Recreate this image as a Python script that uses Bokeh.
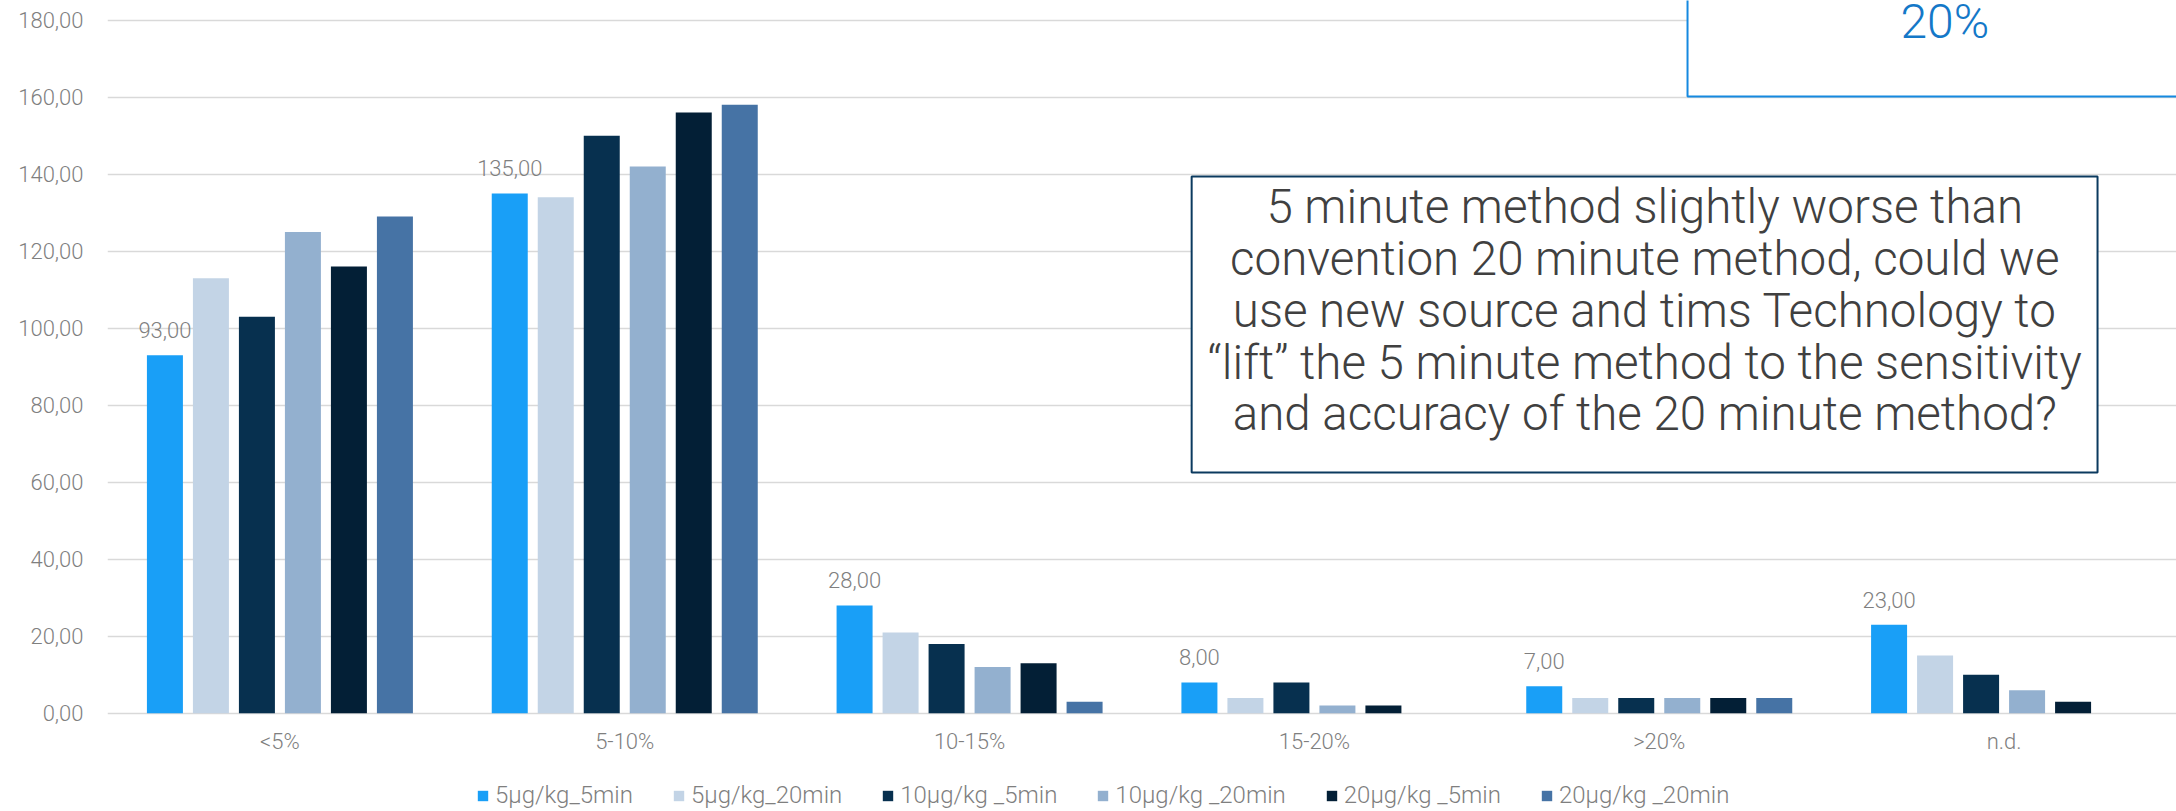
from bokeh.plotting import figure
from bokeh.models import (FactorRange, Range1d, ColumnDataSource, FixedTicker, Legend,
                          LegendItem, LabelSet, Label, BoxAnnotation)
from bokeh.core.properties import value
from bokeh.transform import dodge
from bokeh.embed import file_html
from bokeh.resources import INLINE

categories = ["<5%", "5-10%", "10-15%", "15-20%", ">20%", "n.d."]
series_names = ["5µg/kg_5min", "5µg/kg_20min", "10µg/kg _5min",
                "10µg/kg _20min", "20µg/kg _5min", "20µg/kg _20min"]
s_5ug_5min = [93, 135, 28, 8, 7, 23]
s_5ug_20min = [113, 134, 21, 4, 4, 15]
s_10ug_5min = [103, 150, 18, 8, 4, 10]
s_10ug_20min = [125, 142, 12, 2, 4, 6]
s_20ug_5min = [116, 156, 13, 2, 4, 3]
s_20ug_20min = [129, 158, 3, 0, 4, 0]
y_ticks = [0, 20, 40, 60, 80, 100, 120, 140, 160, 180]
note_text = ("5 minute method slightly worse than\n"
             "convention 20 minute method, could we\n"
             "use new source and tims Technology to\n"
             "\u201clift\u201d the 5 minute method to the sensitivity\n"
             "and accuracy of the 20 minute method?")
corner_text = "20%"

colors = ["#199ff7", "#c3d4e6", "#07304f", "#93b0cf", "#031f36", "#4673a5"]
series = [s_5ug_5min, s_5ug_20min, s_10ug_5min, s_10ug_20min, s_20ug_5min, s_20ug_20min]

LIGHT = "Roboto Light"
GRAY = "#7f7f7f"

data = {"cat": categories}
for i, s in enumerate(series):
    data[f"s{i}"] = s
data["lab"] = [f"{v:.2f}".replace(".", ",") for v in s_5ug_5min]
src = ColumnDataSource(data)

p = figure(x_range=FactorRange(*categories), y_range=Range1d(-25.5, 185.1),
           width=2176, height=811, output_backend="svg", toolbar_location=None,
           min_border_left=107, min_border_right=0, min_border_top=0, min_border_bottom=0)

step = 0.1334
bw = 0.1044
renderers = []
for i in range(6):
    off = (i - 2.5) * step
    r = p.vbar(x=dodge("cat", off, range=p.x_range), top=f"s{i}", width=bw,
               source=src, fill_color=colors[i], line_color=None)
    renderers.append(r)

labels = LabelSet(x=dodge("cat", -2.5 * step, range=p.x_range), y="s0", text="lab",
                  source=src, text_align="center", text_baseline="alphabetic",
                  y_offset=17, text_font_size="22px", text_color=GRAY,
                  text_font=value(LIGHT))
p.add_layout(labels)

# axes
p.xaxis.fixed_location = 0
p.yaxis.ticker = FixedTicker(ticks=y_ticks)
p.yaxis.major_label_overrides = {t: f"{t:.2f}".replace(".", ",") for t in y_ticks}
for ax in (p.xaxis[0], p.yaxis[0]):
    ax.axis_line_color = None
    ax.major_tick_line_color = None
    ax.minor_tick_line_color = None
    ax.major_tick_out = 0
    ax.major_tick_in = 0
    ax.major_label_text_font_size = "22px"
    ax.major_label_text_color = GRAY
    ax.major_label_text_font = LIGHT
p.yaxis.major_label_standoff = 24
p.xaxis.major_label_standoff = 16
p.xgrid.grid_line_color = None
p.ygrid.grid_line_color = "#d9d9d9"
p.ygrid.grid_line_width = 1.5
p.outline_line_color = None

# annotation boxes
p.add_layout(BoxAnnotation(left=3.144, right=5.771, bottom=62.5, top=139.4,
                           fill_color="white", fill_alpha=1.0,
                           line_color="#0b3a5f", line_alpha=1.0, line_width=2))
p.add_layout(Label(x=4.458, y=104.5, text=note_text, text_align="center",
                   text_baseline="middle", text_font_size="47.5px", text_color="#404040",
                   text_font=LIGHT, text_line_height=0.925))
p.add_layout(BoxAnnotation(left=4.582, right=6.5, bottom=160.2, top=200,
                           fill_color="white", fill_alpha=1.0,
                           line_color="#1589e0", line_alpha=1.0, line_width=2))
p.add_layout(Label(x=5.328, y=179.6, text=corner_text, text_align="center",
                   text_baseline="alphabetic", text_font_size="48px", text_color="#1478c8",
                   text_font=LIGHT))

legend = Legend(items=[LegendItem(label=n, renderers=[r]) for n, r in zip(series_names, renderers)],
                orientation="horizontal", location=(369, 2), glyph_width=13, glyph_height=13,
                label_standoff=6, spacing=39, padding=0, margin=0, border_line_color=None,
                background_fill_alpha=0, label_text_font_size="24px", label_text_color=GRAY,
                label_text_font=LIGHT, label_height=26)
p.add_layout(legend)

open("out.html", "w").write(file_html(p, INLINE))
